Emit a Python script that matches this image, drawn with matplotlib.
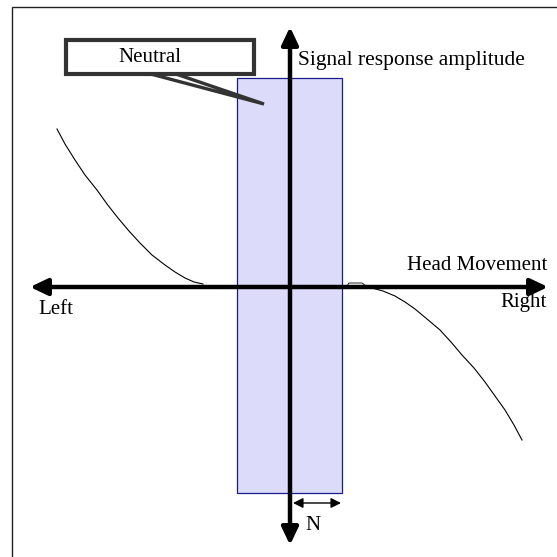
import matplotlib.pyplot as plt
from matplotlib.patches import Rectangle, Polygon, FancyArrowPatch

# diagram coordinates: origin where the two axes cross, y up (1 unit ~ 1 px)
left_curve_x = [-233, -225, -215, -205, -193, -183, -172, -161, -150, -138, -125, -115, -105, -96, -87]
left_curve_y = [158, 143, 127, 112, 97, 83, 69, 56, 44, 32, 22, 15, 9, 5, 3]
right_curve_x = [82, 93, 105, 115, 125, 137, 150, 161, 172, 184, 195, 205, 215, 224, 232]
right_curve_y = [-1, -4, -9, -15, -22, -32, -43, -55, -68, -81, -95, -109, -123, -138, -153]
bump_x = [57, 59, 72, 76]
bump_y = [1, 4, 4, 1]

neutral_band = (-53, 52)       # x range of the neutral zone
neutral_height = (-206, 209)   # y range of the shaded band

SERIF = ['Liberation Serif', 'DejaVu Serif']


def arrow(ax, start, end, lw, head_len, head_w):
    ax.add_patch(FancyArrowPatch(start, end,
                                 arrowstyle=f'<|-|>,head_length={head_len},head_width={head_w}',
                                 color='black', lw=lw, shrinkA=0, shrinkB=0,
                                 mutation_scale=10, zorder=4))


def main():
    fig = plt.figure(figsize=(5.57, 5.57), dpi=100)
    ax = fig.add_axes([0, 0, 1, 1])
    ax.set_xlim(-290, 267)
    ax.set_ylim(-270, 287)
    ax.axis('off')

    # outer frame (only left/top edges visible)
    ax.add_patch(Rectangle((-278, -300), 600, 580, fill=False, ec='#222222', lw=1.0))

    # neutral band
    ax.add_patch(Rectangle((neutral_band[0], neutral_height[0]),
                           neutral_band[1] - neutral_band[0],
                           neutral_height[1] - neutral_height[0],
                           fc='#dcdcfa', ec='#1a1a8c', lw=0.9, zorder=2))

    # response curves
    ax.plot(left_curve_x, left_curve_y, color='black', lw=0.8, zorder=3)
    ax.plot(right_curve_x, right_curve_y, color='black', lw=0.8, zorder=3)
    ax.plot(bump_x, bump_y, color='black', lw=0.6, zorder=3)

    # main axes
    arrow(ax, (-260, 0), (258, 0), 3.2, 1.05, 0.5)
    arrow(ax, (0, -258), (0, 260), 3.2, 1.05, 0.5)

    # N width arrow
    arrow(ax, (3, -216), (51, -216), 1.0, 0.6, 0.3)

    # callout
    ax.add_patch(Polygon([(-143, 214), (-117, 214), (-26, 183)], closed=True,
                         fc='white', ec='#333333', lw=2.4, zorder=5))
    ax.add_patch(Rectangle((-224, 213), 188, 34, fc='white', ec='#333333', lw=3.0, zorder=6))
    ax.text(-140, 230, 'Neutral', family=SERIF, fontsize=15, ha='center', va='center', zorder=7)

    ax.text(8, 227, 'Signal response amplitude', family=SERIF, fontsize=15.5, ha='left', va='center')
    ax.text(257, 22, 'Head Movement', family=SERIF, fontsize=15, ha='right', va='center')
    ax.text(257, -16, 'Right', family=SERIF, fontsize=15, ha='right', va='center')
    ax.text(-252, -22, 'Left', family=SERIF, fontsize=15, ha='left', va='center')
    ax.text(23, -238, 'N', family=SERIF, fontsize=15, ha='center', va='center')

    fig.savefig('out.png', dpi=100, facecolor='white')


if __name__ == '__main__':
    main()
